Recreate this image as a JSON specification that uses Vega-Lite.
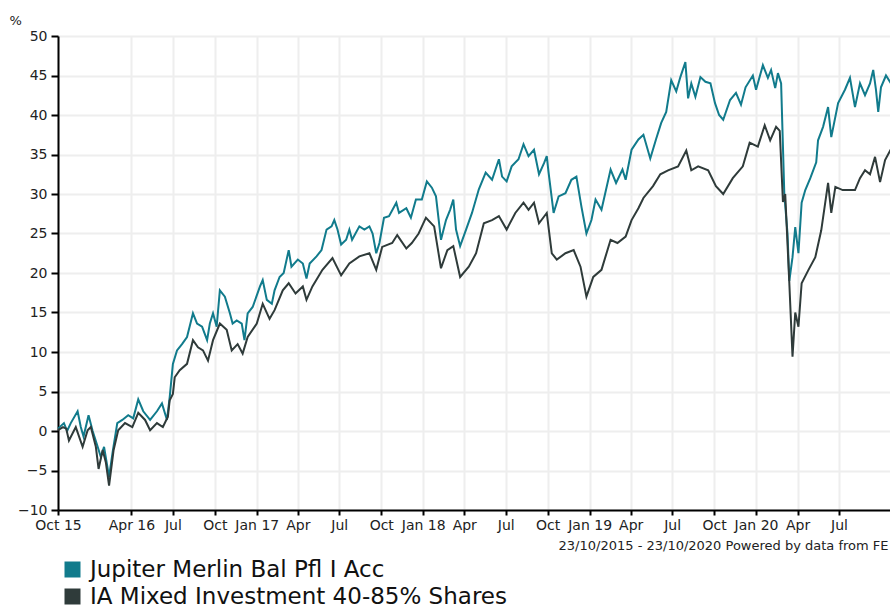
{
  "$schema": "https://vega.github.io/schema/vega-lite/v6.json",
  "autosize": "none",
  "width": 833,
  "height": 474,
  "padding": {"left": 58, "top": 36, "right": 0, "bottom": 98},
  "background": "white",
  "config": {
    "font": "DejaVu Sans",
    "view": {"stroke": null},
    "axis": {"labelFont": "DejaVu Sans", "titleFont": "DejaVu Sans", "labelColor": "#222222", "titleColor": "#222222"}
  },
  "datasets": {
    "jup": [
      {"d": "2015-10-23", "v": 0.3}, {"d": "2015-11-05", "v": 1}, {"d": "2015-11-12", "v": 0}, {"d": "2015-11-20", "v": 1},
      {"d": "2015-12-05", "v": 2.5}, {"d": "2015-12-12", "v": 0.5}, {"d": "2015-12-18", "v": -0.7}, {"d": "2015-12-29", "v": 2},
      {"d": "2016-01-07", "v": 0}, {"d": "2016-01-18", "v": -2}, {"d": "2016-01-25", "v": -3.3}, {"d": "2016-02-01", "v": -2},
      {"d": "2016-02-12", "v": -5.8}, {"d": "2016-02-20", "v": -2.6}, {"d": "2016-03-01", "v": 1}, {"d": "2016-03-12", "v": 1.4},
      {"d": "2016-03-25", "v": 2}, {"d": "2016-04-05", "v": 1.6}, {"d": "2016-04-16", "v": 4}, {"d": "2016-04-27", "v": 2.5},
      {"d": "2016-05-12", "v": 1.4}, {"d": "2016-05-27", "v": 2.5}, {"d": "2016-06-07", "v": 3.5}, {"d": "2016-06-18", "v": 1.4},
      {"d": "2016-06-24", "v": 4.3}, {"d": "2016-07-01", "v": 8.5}, {"d": "2016-07-10", "v": 10.2}, {"d": "2016-07-21", "v": 11},
      {"d": "2016-08-01", "v": 11.9}, {"d": "2016-08-14", "v": 14.9}, {"d": "2016-08-23", "v": 13.6}, {"d": "2016-09-03", "v": 13.2},
      {"d": "2016-09-14", "v": 11.5}, {"d": "2016-09-20", "v": 13.6}, {"d": "2016-09-27", "v": 14.9}, {"d": "2016-10-05", "v": 13.2},
      {"d": "2016-10-12", "v": 17.8}, {"d": "2016-10-23", "v": 17}, {"d": "2016-11-03", "v": 14.9}, {"d": "2016-11-09", "v": 13.6},
      {"d": "2016-11-18", "v": 14}, {"d": "2016-11-29", "v": 13.6}, {"d": "2016-12-05", "v": 11.5}, {"d": "2016-12-12", "v": 14.9},
      {"d": "2016-12-23", "v": 15.7}, {"d": "2017-01-08", "v": 18.3}, {"d": "2017-01-14", "v": 19.1}, {"d": "2017-01-23", "v": 16.6},
      {"d": "2017-02-03", "v": 16.1}, {"d": "2017-02-09", "v": 17.8}, {"d": "2017-02-20", "v": 19.5}, {"d": "2017-03-01", "v": 20},
      {"d": "2017-03-12", "v": 22.9}, {"d": "2017-03-18", "v": 20.8}, {"d": "2017-04-01", "v": 21.7}, {"d": "2017-04-12", "v": 21.2},
      {"d": "2017-04-20", "v": 19.3}, {"d": "2017-04-27", "v": 21.2}, {"d": "2017-05-12", "v": 22.1}, {"d": "2017-05-23", "v": 22.9},
      {"d": "2017-06-03", "v": 25.5}, {"d": "2017-06-14", "v": 25.9}, {"d": "2017-06-20", "v": 26.7}, {"d": "2017-06-27", "v": 25.5},
      {"d": "2017-07-05", "v": 23.6}, {"d": "2017-07-16", "v": 24.2}, {"d": "2017-07-23", "v": 25.5}, {"d": "2017-07-29", "v": 24.2},
      {"d": "2017-08-14", "v": 25.9}, {"d": "2017-08-25", "v": 25.5}, {"d": "2017-09-05", "v": 25.9}, {"d": "2017-09-12", "v": 25},
      {"d": "2017-09-20", "v": 22.5}, {"d": "2017-09-27", "v": 23.8}, {"d": "2017-10-07", "v": 27}, {"d": "2017-10-18", "v": 27.2},
      {"d": "2017-11-03", "v": 28.9}, {"d": "2017-11-09", "v": 27.6}, {"d": "2017-11-25", "v": 28.2}, {"d": "2017-12-05", "v": 27},
      {"d": "2017-12-16", "v": 29.3}, {"d": "2017-12-29", "v": 29.3}, {"d": "2018-01-09", "v": 31.6}, {"d": "2018-01-20", "v": 30.8},
      {"d": "2018-01-29", "v": 29.7}, {"d": "2018-02-09", "v": 24.2}, {"d": "2018-02-20", "v": 26.7}, {"d": "2018-03-01", "v": 28},
      {"d": "2018-03-08", "v": 29.3}, {"d": "2018-03-14", "v": 25.5}, {"d": "2018-03-23", "v": 23.4}, {"d": "2018-04-05", "v": 25.5},
      {"d": "2018-04-18", "v": 27.6}, {"d": "2018-05-03", "v": 30.6}, {"d": "2018-05-18", "v": 32.7}, {"d": "2018-06-01", "v": 31.8},
      {"d": "2018-06-16", "v": 34.4}, {"d": "2018-06-23", "v": 32.2}, {"d": "2018-07-03", "v": 31.6}, {"d": "2018-07-14", "v": 33.5},
      {"d": "2018-07-29", "v": 34.4}, {"d": "2018-08-09", "v": 36.3}, {"d": "2018-08-20", "v": 34.8}, {"d": "2018-09-01", "v": 35.6},
      {"d": "2018-09-12", "v": 32.5}, {"d": "2018-09-23", "v": 33.9}, {"d": "2018-09-29", "v": 34.8}, {"d": "2018-10-03", "v": 32.7},
      {"d": "2018-10-14", "v": 27.6}, {"d": "2018-10-25", "v": 29.7}, {"d": "2018-11-09", "v": 30.1}, {"d": "2018-11-22", "v": 31.8},
      {"d": "2018-12-03", "v": 32.2}, {"d": "2018-12-14", "v": 28.4}, {"d": "2018-12-25", "v": 25}, {"d": "2019-01-05", "v": 26.7},
      {"d": "2019-01-14", "v": 29.3}, {"d": "2019-01-27", "v": 28}, {"d": "2019-02-16", "v": 33.1}, {"d": "2019-02-28", "v": 31.4},
      {"d": "2019-03-14", "v": 33.1}, {"d": "2019-03-21", "v": 31.8}, {"d": "2019-04-03", "v": 35.6}, {"d": "2019-04-18", "v": 36.9},
      {"d": "2019-04-29", "v": 37.5}, {"d": "2019-05-14", "v": 34.5}, {"d": "2019-05-27", "v": 37}, {"d": "2019-06-07", "v": 39},
      {"d": "2019-06-18", "v": 40.4}, {"d": "2019-06-29", "v": 44.4}, {"d": "2019-07-10", "v": 43}, {"d": "2019-07-19", "v": 44.8},
      {"d": "2019-07-30", "v": 46.7}, {"d": "2019-08-05", "v": 42.1}, {"d": "2019-08-12", "v": 44}, {"d": "2019-08-21", "v": 42.3},
      {"d": "2019-09-01", "v": 44.8}, {"d": "2019-09-12", "v": 44.2}, {"d": "2019-09-23", "v": 44}, {"d": "2019-10-03", "v": 41.5},
      {"d": "2019-10-12", "v": 40}, {"d": "2019-10-21", "v": 39.4}, {"d": "2019-11-05", "v": 41.9}, {"d": "2019-11-18", "v": 42.8},
      {"d": "2019-11-29", "v": 41.3}, {"d": "2019-12-09", "v": 43.5}, {"d": "2019-12-25", "v": 45}, {"d": "2020-01-01", "v": 43.2},
      {"d": "2020-01-16", "v": 46.3}, {"d": "2020-01-27", "v": 44.7}, {"d": "2020-02-03", "v": 45.7}, {"d": "2020-02-12", "v": 43.4},
      {"d": "2020-02-18", "v": 45.3}, {"d": "2020-02-25", "v": 44}, {"d": "2020-02-29", "v": 36}, {"d": "2020-03-03", "v": 30},
      {"d": "2020-03-10", "v": 25}, {"d": "2020-03-14", "v": 19}, {"d": "2020-03-21", "v": 22}, {"d": "2020-03-27", "v": 25.8},
      {"d": "2020-04-03", "v": 22.5}, {"d": "2020-04-10", "v": 28.9}, {"d": "2020-04-18", "v": 30.5}, {"d": "2020-04-29", "v": 32},
      {"d": "2020-05-12", "v": 34}, {"d": "2020-05-16", "v": 36.8}, {"d": "2020-05-27", "v": 38.5}, {"d": "2020-06-07", "v": 41},
      {"d": "2020-06-14", "v": 37.2}, {"d": "2020-06-29", "v": 41.5}, {"d": "2020-07-14", "v": 43.2}, {"d": "2020-07-25", "v": 44.7},
      {"d": "2020-08-05", "v": 41}, {"d": "2020-08-16", "v": 44}, {"d": "2020-08-27", "v": 42.5}, {"d": "2020-09-07", "v": 44},
      {"d": "2020-09-14", "v": 45.7}, {"d": "2020-09-20", "v": 43.2}, {"d": "2020-09-25", "v": 40.4}, {"d": "2020-10-01", "v": 43.5},
      {"d": "2020-10-12", "v": 45}, {"d": "2020-10-23", "v": 44}
    ],
    "ia": [
      {"d": "2015-10-23", "v": 0.1}, {"d": "2015-11-03", "v": 0.5}, {"d": "2015-11-10", "v": 0.3}, {"d": "2015-11-16", "v": -1.2},
      {"d": "2015-12-01", "v": 0.5}, {"d": "2015-12-16", "v": -2}, {"d": "2015-12-27", "v": 0.1}, {"d": "2016-01-03", "v": 0.5},
      {"d": "2016-01-14", "v": -2}, {"d": "2016-01-20", "v": -4.8}, {"d": "2016-01-29", "v": -2.4}, {"d": "2016-02-05", "v": -4},
      {"d": "2016-02-12", "v": -6.9}, {"d": "2016-02-22", "v": -2.4}, {"d": "2016-03-03", "v": 0.1}, {"d": "2016-03-18", "v": 1},
      {"d": "2016-04-03", "v": 0.5}, {"d": "2016-04-16", "v": 2.3}, {"d": "2016-05-01", "v": 1.4}, {"d": "2016-05-12", "v": 0.1},
      {"d": "2016-05-27", "v": 1}, {"d": "2016-06-09", "v": 0.5}, {"d": "2016-06-20", "v": 1.8}, {"d": "2016-06-24", "v": 3.9},
      {"d": "2016-07-01", "v": 4.7}, {"d": "2016-07-05", "v": 6.8}, {"d": "2016-07-16", "v": 7.7}, {"d": "2016-08-01", "v": 8.5},
      {"d": "2016-08-14", "v": 11.5}, {"d": "2016-08-25", "v": 10.6}, {"d": "2016-09-05", "v": 10.2}, {"d": "2016-09-16", "v": 8.9},
      {"d": "2016-09-27", "v": 11.5}, {"d": "2016-10-12", "v": 13.6}, {"d": "2016-10-27", "v": 12.8}, {"d": "2016-11-07", "v": 10.2},
      {"d": "2016-11-20", "v": 11}, {"d": "2016-12-01", "v": 9.8}, {"d": "2016-12-12", "v": 11.9}, {"d": "2017-01-01", "v": 13.6},
      {"d": "2017-01-14", "v": 16.1}, {"d": "2017-01-29", "v": 14.2}, {"d": "2017-02-09", "v": 15.3}, {"d": "2017-02-27", "v": 17.8},
      {"d": "2017-03-12", "v": 18.7}, {"d": "2017-03-27", "v": 17.4}, {"d": "2017-04-12", "v": 18.3}, {"d": "2017-04-20", "v": 16.6},
      {"d": "2017-05-03", "v": 18.3}, {"d": "2017-05-25", "v": 20.4}, {"d": "2017-06-16", "v": 21.9}, {"d": "2017-07-05", "v": 19.7},
      {"d": "2017-07-23", "v": 21.2}, {"d": "2017-08-14", "v": 22.1}, {"d": "2017-09-05", "v": 22.5}, {"d": "2017-09-20", "v": 20.4},
      {"d": "2017-10-03", "v": 23.3}, {"d": "2017-10-25", "v": 23.8}, {"d": "2017-11-05", "v": 24.8}, {"d": "2017-11-25", "v": 23.1},
      {"d": "2017-12-07", "v": 23.8}, {"d": "2017-12-22", "v": 25}, {"d": "2018-01-07", "v": 27}, {"d": "2018-01-25", "v": 25.9},
      {"d": "2018-02-09", "v": 20.6}, {"d": "2018-02-23", "v": 22.9}, {"d": "2018-03-08", "v": 23.4}, {"d": "2018-03-23", "v": 19.5},
      {"d": "2018-04-11", "v": 20.8}, {"d": "2018-04-27", "v": 22.5}, {"d": "2018-05-14", "v": 26.3}, {"d": "2018-06-01", "v": 26.7},
      {"d": "2018-06-16", "v": 27.2}, {"d": "2018-07-03", "v": 25.5}, {"d": "2018-07-22", "v": 27.6}, {"d": "2018-08-09", "v": 28.9},
      {"d": "2018-08-20", "v": 28}, {"d": "2018-09-01", "v": 28.9}, {"d": "2018-09-12", "v": 26.3}, {"d": "2018-09-29", "v": 27.6},
      {"d": "2018-10-10", "v": 22.5}, {"d": "2018-10-21", "v": 21.7}, {"d": "2018-11-09", "v": 22.5}, {"d": "2018-11-27", "v": 22.9},
      {"d": "2018-12-12", "v": 20.8}, {"d": "2018-12-25", "v": 17}, {"d": "2019-01-09", "v": 19.5}, {"d": "2019-01-27", "v": 20.4},
      {"d": "2019-02-16", "v": 24.2}, {"d": "2019-03-03", "v": 23.8}, {"d": "2019-03-21", "v": 24.6}, {"d": "2019-04-03", "v": 26.7},
      {"d": "2019-04-18", "v": 28.2}, {"d": "2019-04-29", "v": 29.5}, {"d": "2019-05-20", "v": 31}, {"d": "2019-06-05", "v": 32.5},
      {"d": "2019-06-22", "v": 33}, {"d": "2019-07-14", "v": 33.5}, {"d": "2019-08-01", "v": 35.5}, {"d": "2019-08-12", "v": 33},
      {"d": "2019-08-27", "v": 33.5}, {"d": "2019-09-18", "v": 33}, {"d": "2019-10-05", "v": 31}, {"d": "2019-10-21", "v": 30},
      {"d": "2019-11-11", "v": 32}, {"d": "2019-12-03", "v": 33.5}, {"d": "2019-12-18", "v": 36.5}, {"d": "2020-01-05", "v": 36},
      {"d": "2020-01-20", "v": 38.7}, {"d": "2020-02-01", "v": 36.8}, {"d": "2020-02-14", "v": 38.5}, {"d": "2020-02-22", "v": 38},
      {"d": "2020-02-29", "v": 29}, {"d": "2020-03-05", "v": 30}, {"d": "2020-03-14", "v": 18.7}, {"d": "2020-03-21", "v": 9.4},
      {"d": "2020-03-27", "v": 15}, {"d": "2020-04-03", "v": 13.2}, {"d": "2020-04-10", "v": 18.7}, {"d": "2020-04-25", "v": 20.4},
      {"d": "2020-05-10", "v": 22}, {"d": "2020-05-23", "v": 25.4}, {"d": "2020-06-07", "v": 31.4}, {"d": "2020-06-14", "v": 27.6},
      {"d": "2020-06-23", "v": 30.9}, {"d": "2020-07-09", "v": 30.5}, {"d": "2020-08-05", "v": 30.5}, {"d": "2020-08-16", "v": 32},
      {"d": "2020-08-27", "v": 33}, {"d": "2020-09-07", "v": 32.5}, {"d": "2020-09-18", "v": 34.7}, {"d": "2020-09-29", "v": 31.5},
      {"d": "2020-10-10", "v": 34.3}, {"d": "2020-10-23", "v": 35.7}
    ]
  },
  "encoding": {
    "x": {
      "field": "d",
      "type": "temporal",
      "scale": {
        "type": "utc",
        "domain": [{"year": 2015, "month": 10, "date": 23, "utc": true}, {"year": 2020, "month": 10, "date": 23, "utc": true}],
        "nice": false
      },
      "axis": {
        "title": "23/10/2015 - 23/10/2020 Powered by data from FE",
        "titleAnchor": "end",
        "titleAlign": "right",
        "titleBaseline": "alphabetic",
        "titleX": 830,
        "titleY": 39,
        "titleFontSize": 13,
        "titleFontWeight": "normal",
        "values": [
          {"year": 2015, "month": 10, "date": 23, "utc": true},
          {"year": 2016, "month": 4, "date": 1, "utc": true}, {"year": 2016, "month": 7, "date": 1, "utc": true}, {"year": 2016, "month": 10, "date": 1, "utc": true},
          {"year": 2017, "month": 1, "date": 1, "utc": true}, {"year": 2017, "month": 4, "date": 1, "utc": true}, {"year": 2017, "month": 7, "date": 1, "utc": true}, {"year": 2017, "month": 10, "date": 1, "utc": true},
          {"year": 2018, "month": 1, "date": 1, "utc": true}, {"year": 2018, "month": 4, "date": 1, "utc": true}, {"year": 2018, "month": 7, "date": 1, "utc": true}, {"year": 2018, "month": 10, "date": 1, "utc": true},
          {"year": 2019, "month": 1, "date": 1, "utc": true}, {"year": 2019, "month": 4, "date": 1, "utc": true}, {"year": 2019, "month": 7, "date": 1, "utc": true}, {"year": 2019, "month": 10, "date": 1, "utc": true},
          {"year": 2020, "month": 1, "date": 1, "utc": true}, {"year": 2020, "month": 4, "date": 1, "utc": true}, {"year": 2020, "month": 7, "date": 1, "utc": true}
        ],
        "labelExpr": "utcyear(datum.value) == 2015 ? 'Oct 15' : ((utcmonth(datum.value) == 0 || (utcyear(datum.value) == 2016 && utcmonth(datum.value) == 3)) ? utcFormat(datum.value, '%b %y') : utcFormat(datum.value, '%b'))",
        "labelFontSize": 14,
        "labelOverlap": false,
        "labelFlush": false,
        "labelBound": false,
        "labelPadding": 3,
        "tickSize": 5,
        "tickWidth": 2,
        "tickColor": "#000000",
        "domainColor": "#000000",
        "domainWidth": 2,
        "grid": true,
        "gridColor": "#eeeeee",
        "gridWidth": 2
      }
    },
    "y": {
      "field": "v",
      "type": "quantitative",
      "scale": {"domain": [-10, 50], "nice": false, "zero": false},
      "axis": {
        "title": "%",
        "titleAngle": 0,
        "titleAlign": "left",
        "titleBaseline": "alphabetic",
        "titleX": -49,
        "titleY": -12,
        "titleFontSize": 13,
        "titleFontWeight": "normal",
        "values": [-10, -5, 0, 5, 10, 15, 20, 25, 30, 35, 40, 45, 50],
        "labelFontSize": 14,
        "labelPadding": 4,
        "tickSize": 7,
        "tickWidth": 2,
        "tickColor": "#000000",
        "domainColor": "#000000",
        "domainWidth": 2,
        "grid": true,
        "gridColor": "#eeeeee",
        "gridWidth": 2
      }
    }
  },
  "layer": [
    {
      "data": {"name": "jup"},
      "mark": {"type": "line", "strokeWidth": 2},
      "encoding": {
        "color": {
          "datum": "Jupiter Merlin Bal Pfl I Acc",
          "scale": {
            "domain": ["Jupiter Merlin Bal Pfl I Acc", "IA Mixed Investment 40-85% Shares"],
            "range": ["#117b8c", "#2f3b3a"]
          },
          "legend": {
            "title": null,
            "orient": "none",
            "legendX": 3,
            "legendY": 522,
            "direction": "vertical",
            "symbolType": "square",
            "symbolSize": 256,
            "symbolStrokeWidth": 0,
            "labelFontSize": 23,
            "labelFont": "DejaVu Sans",
            "labelColor": "#111111",
            "labelOffset": 6,
            "rowPadding": 3,
            "padding": 0,
            "labelLimit": 600,
            "encode": {
              "symbols": {
                "update": {
                  "fill": {"scale": "color", "field": "value"},
                  "fillOpacity": {"value": 1},
                  "strokeWidth": {"value": 0}
                }
              }
            }
          }
        }
      }
    },
    {
      "data": {"name": "ia"},
      "mark": {"type": "line", "strokeWidth": 2},
      "encoding": {
        "color": {"datum": "IA Mixed Investment 40-85% Shares"}
      }
    }
  ]
}
